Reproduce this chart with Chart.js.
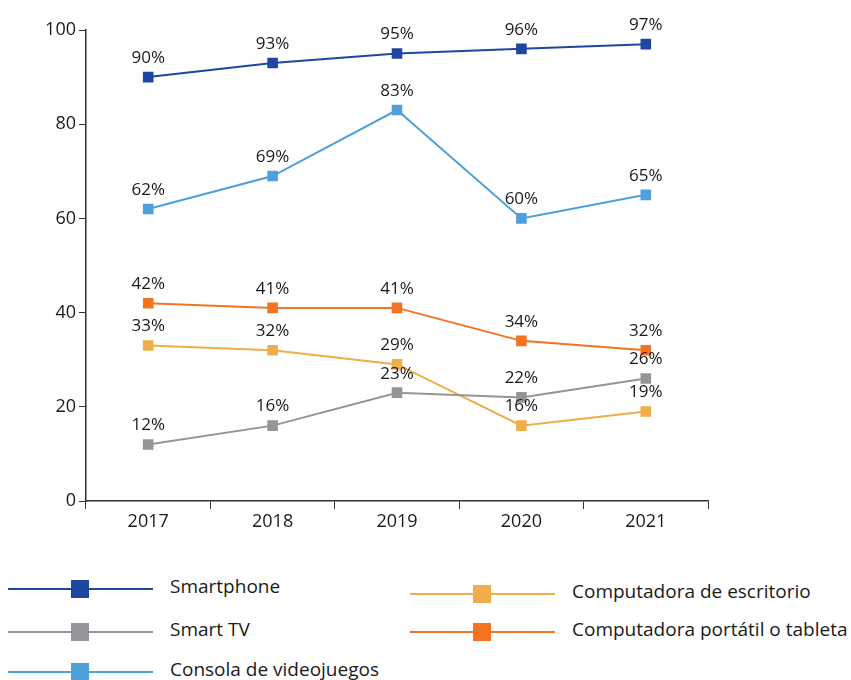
<!DOCTYPE html>
<html lang="es">
<head>
    <meta charset="UTF-8">
    <title>Dispositivos con acceso a internet</title>
    <style>
        body {
            margin: 0;
            background: #fff;
            font-family: "Open Sans", sans-serif;
            color: #1a1a1a;
            width: 851px;
            height: 680px;
            overflow: hidden;
            position: relative;
        }
        #chart {
            position: absolute;
            left: 0;
            top: 0;
        }
        .item {
            position: absolute;
            height: 20px;
            font-size: 19px;
            line-height: 20px;
            white-space: nowrap;
        }
        .item .line {
            position: absolute;
            left: 0;
            top: 9px;
            width: 145px;
            height: 2px;
        }
        .item .mark {
            position: absolute;
            left: 63px;
            top: 1px;
            width: 18px;
            height: 18px;
        }
        .item .text {
            position: absolute;
            left: 162px;
            top: -3px;
        }
    </style>
</head>
<body>
    <canvas id="chart" width="851" height="540"></canvas>
    <div id="legend"></div>

    <script src="https://cdn.jsdelivr.net/npm/chart.js"></script>
    <script>
        const years = ['2017', '2018', '2019', '2020', '2021'];
        const yTicks = [0, 20, 40, 60, 80, 100];

        const smartphone = [90, 93, 95, 96, 97];
        const smartTv = [12, 16, 23, 22, 26];
        const consola = [62, 69, 83, 60, 65];
        const escritorio = [33, 32, 29, 16, 19];
        const portatil = [42, 41, 41, 34, 32];

        const names = ['Smartphone', 'Smart TV', 'Consola de videojuegos', 'Computadora de escritorio', 'Computadora portátil o tableta'];
        const series = [smartphone, smartTv, consola, escritorio, portatil];
        const colors = ['#1f47a0', '#939598', '#4ea0da', '#f0ad4a', '#f37321'];

        // legend slots: [left, top] for each series
        const legendPos = [[8, 579], [8, 622], [8, 662], [410, 584], [410, 622]];

        const axisColor = '#333';
        const tickFont = { family: '"Open Sans", sans-serif', size: 18 };

        // percentage labels above each point
        const valueLabels = {
            id: 'valueLabels',
            afterDatasetsDraw(chart) {
                const ctx = chart.ctx;
                ctx.save();
                ctx.font = '17px "Open Sans", sans-serif';
                ctx.fillStyle = '#1a1a1a';
                ctx.textAlign = 'center';
                ctx.textBaseline = 'middle';
                chart.data.datasets.forEach((ds, i) => {
                    chart.getDatasetMeta(i).data.forEach((pt, j) => {
                        ctx.fillText(ds.data[j] + '%', pt.x, pt.y - 19);
                    });
                });
                ctx.restore();
            }
        };

        new Chart(document.getElementById('chart'), {
            type: 'line',
            data: {
                labels: years,
                datasets: series.map((vals, i) => ({
                    label: names[i],
                    data: vals,
                    borderColor: colors[i],
                    backgroundColor: colors[i],
                    borderWidth: 2,
                    pointStyle: 'rect',
                    pointRadius: 7.5,
                    pointBorderWidth: 0,
                    tension: 0
                }))
            },
            options: {
                responsive: false,
                animation: false,
                layout: { padding: { top: 30, right: 143, left: 0, bottom: 0 } },
                plugins: {
                    legend: { display: false },
                    tooltip: { enabled: false }
                },
                scales: {
                    x: {
                        offset: true,
                        grid: { offset: true, drawOnChartArea: false, tickLength: 8, color: axisColor },
                        border: { color: axisColor, width: 1.5 },
                        ticks: { color: '#1a1a1a', font: tickFont, padding: 2 },
                        afterFit(scale) { scale.height = 39; }
                    },
                    y: {
                        min: 0,
                        max: 100,
                        afterBuildTicks(scale) { scale.ticks = yTicks.map(v => ({ value: v })); },
                        grid: { drawOnChartArea: false, tickLength: 7, color: axisColor },
                        border: { color: axisColor, width: 1.5 },
                        ticks: { color: '#1a1a1a', font: tickFont, padding: 3 },
                        afterFit(scale) { scale.width = 86; }
                    }
                }
            },
            plugins: [valueLabels]
        });

        const legend = document.getElementById('legend');
        names.forEach((name, i) => {
            const item = document.createElement('div');
            item.className = 'item';
            item.style.left = legendPos[i][0] + 'px';
            item.style.top = legendPos[i][1] + 'px';
            item.innerHTML = '<div class="line" style="background:' + colors[i] + '"></div>' +
                '<div class="mark" style="background:' + colors[i] + '"></div>' +
                '<div class="text">' + name + '</div>';
            legend.appendChild(item);
        });
    </script>
</body>
</html>
